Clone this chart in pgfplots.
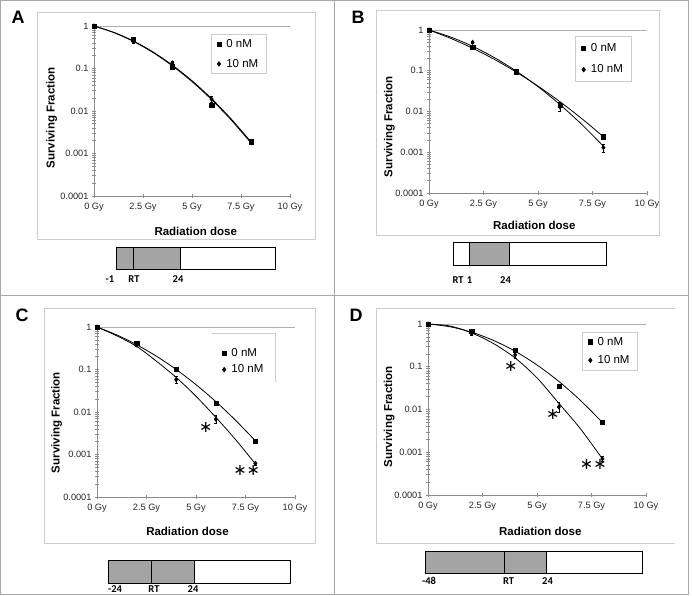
\documentclass[border=0pt]{standalone}
\usepackage{fontspec}
\setmainfont{Liberation Sans}
\newfontfamily\calfont{Carlito}
\newfontfamily\dejavu{DejaVu Sans}
\usepackage{pgfplots}
\pgfplotsset{compat=1.18}
\definecolor{framec}{HTML}{A8A8A8}
\definecolor{boxc}{HTML}{CDCDCD}
\definecolor{axc}{HTML}{8C8C8C}
\definecolor{fillg}{HTML}{A4A4A4}

\pgfplotsset{
  scale only axis, xmin=0, xmax=10, ymin=0.0001, ymax=1,
  xtick={0,2.5,5,7.5,10}, xticklabels={0 Gy,2.5 Gy,5 Gy,7.5 Gy,10 Gy},
  ytick={0.0001,0.001,0.01,0.1,1}, yticklabels={0.0001,0.001,0.01,0.1,1},
  minor ytick={0.0002,0.0003,0.0004,0.0005,0.0006,0.0007,0.0008,0.0009,
               0.002,0.003,0.004,0.005,0.006,0.007,0.008,0.009,
               0.02,0.03,0.04,0.05,0.06,0.07,0.08,0.09,
               0.2,0.3,0.4,0.5,0.6,0.7,0.8,0.9},
  axis lines*=left, axis line style={axc, line width=0.7pt},
  tick style={axc, line width=0.6pt}, major tick length=4pt, minor tick length=3.5pt, tick align=center,
  ticklabel style={font=\fontsize{9.2}{10}\selectfont, text=black!85},
  xticklabel style={yshift=-2pt},
  xlabel={Radiation dose}, ylabel={Surviving Fraction},
  label style={font=\bfseries\fontsize{11.5}{13}\selectfont},
  clip=false,
  legend cell align=left,
  legend style={draw=boxc, line width=0.6pt, font=\fontsize{11.5}{13}\selectfont, anchor=north west,
     inner xsep=6pt, inner ysep=3pt, row sep=6pt},
}

\begin{document}
\begin{tikzpicture}
\useasboundingbox (0,0) rectangle (692pt,595pt);
\begin{scope}[x=1pt,y=-1pt,yshift=595pt]
  % frame and dividers
  \draw[framec, line width=0.9pt] (0.5,0.5) rectangle (688,594.5);
  \draw[framec, line width=0.9pt] (334.5,0.5) -- (334.5,594.5);
  \draw[framec, line width=0.9pt] (0.5,295) -- (688,295);
  % chart boxes
  \draw[boxc, line width=0.8pt] (37,12) rectangle (315,239);
  \draw[boxc, line width=0.8pt] (376,10) rectangle (659,235);
  \draw[boxc, line width=0.8pt] (44,308) rectangle (315,543);
  \draw[boxc, line width=0.8pt] (376,308) -- (675,308);
  \draw[boxc, line width=0.8pt] (376,308) -- (376,543) -- (675,543);
  % panel letters
  \node[font=\bfseries\fontsize{18}{18}\selectfont] at (18,17) {A};
  \node[font=\bfseries\fontsize{18}{18}\selectfont] at (358,17) {B};
  \node[font=\bfseries\fontsize{18}{18}\selectfont] at (22,315) {C};
  \node[font=\bfseries\fontsize{18}{18}\selectfont] at (356,315) {D};
  % timelines
  \begin{scope}[line width=0.8pt, font=\calfont\bfseries\fontsize{10.5}{11}\selectfont]
    % A
    \fill[fillg] (116,247) rectangle (180,269);
    \draw (116,247) rectangle (275,269);
    \draw (133,247) -- (133,269); \draw (180,247) -- (180,269);
    \node at (110,279) {-1}; \node at (134,279) {RT}; \node at (178,279) {24};
    % B
    \fill[fillg] (469,242) rectangle (509,265);
    \draw (453,242) rectangle (606,265);
    \draw (469,242) -- (469,265); \draw (509,242) -- (509,265);
    \node at (458,280) {RT}; \node at (469.5,280) {1}; \node at (505.5,280) {24};
    % C
    \fill[fillg] (108,560) rectangle (194,583);
    \draw (108,560) rectangle (290,583);
    \draw (151,560) -- (151,583); \draw (194,560) -- (194,583);
    \node at (115,589) {-24}; \node at (154,589) {RT}; \node at (193,589) {24};
    % D
    \fill[fillg] (425,551) rectangle (546,573);
    \draw (425,551) rectangle (642,573);
    \draw (504,551) -- (504,573); \draw (546,551) -- (546,573);
    \node at (429,581) {-48}; \node at (508.5,581) {RT}; \node at (547.5,581) {24};
  \end{scope}
  % partial legend frame of C
  \draw[boxc, line width=0.8pt] (211.7,333.3) -- (275,333.3) -- (275,381.7);
\end{scope}

% ---------- Panel A ----------
\begin{semilogyaxis}[at={(94pt,399pt)}, anchor=south west, width=196pt, height=170pt,
  ylabel style={at={(axis description cs:-0.216,0.46)}, anchor=center},
  xlabel style={at={(axis description cs:0.519,-0.21)}, anchor=center},
  legend style={at={(axis description cs:0.595,0.951)}}]
\draw[axc!70, line width=0.6pt] (axis cs:0,1) -- (axis cs:10,1);
\addplot[black, line width=0.8pt, smooth, forget plot, mark=none] coordinates {(0,1) (1,0.712) (2,0.447) (3,0.247) (4,0.120) (5,0.0516) (6,0.0195) (7,0.00648) (8,0.00190)};
\addplot[black, line width=0.8pt, smooth, forget plot, mark=none] coordinates {(0,1) (1,0.703) (2,0.436) (3,0.239) (4,0.115) (5,0.0492) (6,0.0185) (7,0.00614) (8,0.00180)};
\addplot[only marks, mark=square*, mark size=2.1pt, black, error bars/.cd, y dir=both, y explicit, error bar style={black, line width=0.6pt}, error mark options={rotate=90, mark size=1.6pt, black, line width=0.6pt}]
  coordinates {(0,1) +- (0,0) (2,0.48) +- (0,0.03) (4,0.11) +- (0,0.01) (6,0.0138) +- (0,0.001) (8,0.0019) +- (0,0.0002)};
\addplot[only marks, mark=diamond*, mark size=2.3pt, black, error bars/.cd, y dir=both, y explicit, error bar style={black, line width=0.6pt}, error mark options={rotate=90, mark size=1.6pt, black, line width=0.6pt}]
  coordinates {(0,1) +- (0,0) (2,0.43) +- (0,0.03) (4,0.135) +- (0,0.015) (6,0.019) +- (0,0.003) (8,0.00185) +- (0,0.0002)};
\legend{~0 nM, ~10 nM}
\end{semilogyaxis}

% ---------- Panel B ----------
\begin{semilogyaxis}[at={(429pt,402pt)}, anchor=south west, width=218pt, height=163pt,
  ylabel style={at={(axis description cs:-0.182,0.407)}, anchor=center},
  xlabel style={at={(axis description cs:0.483,-0.196)}, anchor=center},
  legend style={at={(axis description cs:0.671,0.963)}, row sep=8pt, inner ysep=5pt}]
\draw[axc!70, line width=0.6pt] (axis cs:0,1) -- (axis cs:10,1);
\addplot[black, line width=0.8pt, smooth, forget plot, mark=none] coordinates {(0,1) (1,0.622) (2,0.358) (3,0.190) (4,0.0929) (5,0.0420) (6,0.0175) (7,0.00675) (8,0.00240)};
\addplot[black, line width=0.8pt, smooth, forget plot, mark=none] coordinates {(0,1) (1,0.671) (2,0.399) (3,0.210) (4,0.0982) (5,0.0407) (6,0.0149) (7,0.00486) (8,0.00140)};
\addplot[only marks, mark=square*, mark size=2.1pt, black, error bars/.cd, y dir=both, y explicit, error bar style={black, line width=0.6pt}, error mark options={rotate=90, mark size=1.6pt, black, line width=0.6pt}]
  coordinates {(0,1) +- (0,0) (2,0.37) +- (0,0.02) (4,0.095) +- (0,0.005) (6,0.0145) +- (0,0.002) (8,0.0024) +- (0,0.0003)};
\addplot[only marks, mark=diamond*, mark size=2.3pt, black, error bars/.cd, y dir=both, y explicit, error bar style={black, line width=0.6pt}, error mark options={rotate=90, mark size=1.6pt, black, line width=0.6pt}]
  coordinates {(0,1) +- (0,0) (2,0.5) +- (0,0.03) (4,0.095) +- (0,0.005) (6,0.013) +- (0,0.003) (8,0.0013) +- (0,0.0003)};
\legend{~0 nM, ~10 nM}
\end{semilogyaxis}

% ---------- Panel C ----------
\begin{semilogyaxis}[at={(97pt,98pt)}, anchor=south west, width=198pt, height=170pt,
  ylabel style={at={(axis description cs:-0.204,0.438)}, anchor=center},
  xlabel style={at={(axis description cs:0.457,-0.204)}, anchor=center},
  legend style={at={(axis description cs:0.60,0.906)}, draw=none, fill=none, row sep=3pt}]
\draw[axc!70, line width=0.6pt] (axis cs:0,1) -- (axis cs:10,1);
\addplot[black, line width=0.8pt, smooth, forget plot, mark=none] coordinates {(0,1) (1,0.651) (2,0.384) (3,0.206) (4,0.100) (5,0.0440) (6,0.0176) (7,0.00637) (8,0.0021)};
\addplot[black, line width=0.8pt, smooth, forget plot, mark=none] coordinates {(0,1) (1,0.62) (2,0.35) (3,0.157) (4,0.065) (5,0.0235) (6,0.0075) (7,0.00224) (8,0.0006)};
\addplot[only marks, mark=square*, mark size=2.1pt, black, error bars/.cd, y dir=both, y explicit, error bar style={black, line width=0.6pt}, error mark options={rotate=90, mark size=1.6pt, black, line width=0.6pt}]
  coordinates {(0,1) +- (0,0) (2,0.42) +- (0,0.02) (4,0.1) +- (0,0.005) (6,0.016) +- (0,0.001) (8,0.0021) +- (0,0.0001)};
\addplot[only marks, mark=diamond*, mark size=2.3pt, black, error bars/.cd, y dir=both, y explicit, error bar style={black, line width=0.6pt}, error mark options={rotate=90, mark size=1.6pt, black, line width=0.6pt}]
  coordinates {(0,1) +- (0,0) (2,0.38) +- (0,0.03) (4,0.058) +- (0,0.01) (6,0.0068) +- (0,0.0015) (8,0.00062) +- (0,0.00005)};
\legend{~0 nM, ~10 nM}
\node[font=\dejavu\fontsize{16}{16}\selectfont] at (axis cs:5.5,0.0043) {∗};
\node[font=\dejavu\fontsize{16}{16}\selectfont] at (axis cs:7.56,0.00043) {∗∗};
\end{semilogyaxis}

% ---------- Panel D ----------
\begin{semilogyaxis}[at={(428pt,100pt)}, anchor=south west, width=218pt, height=171pt,
  ylabel style={at={(axis description cs:-0.178,0.458)}, anchor=center},
  xlabel style={at={(axis description cs:0.515,-0.21)}, anchor=center},
  legend style={at={(axis description cs:0.706,0.955)}, row sep=5pt}]
\draw[axc!70, line width=0.6pt] (axis cs:0,1) -- (axis cs:10,1);
\addplot[black, line width=0.8pt, smooth, forget plot, mark=none] coordinates {(0,1) (1,0.864) (2,0.644) (3,0.414) (4,0.230) (5,0.110) (6,0.0455) (7,0.0162) (8,0.0050)};
\addplot[black, line width=0.8pt, smooth, forget plot, mark=none] coordinates {(0,1) (1,0.9) (2,0.62) (3,0.35) (4,0.16) (5,0.055) (6,0.014) (7,0.0035) (8,0.0007)};
\addplot[only marks, mark=square*, mark size=2.1pt, black, error bars/.cd, y dir=both, y explicit, error bar style={black, line width=0.6pt}, error mark options={rotate=90, mark size=1.6pt, black, line width=0.6pt}]
  coordinates {(0,1) +- (0,0) (2,0.68) +- (0,0.05) (4,0.24) +- (0,0.02) (6,0.035) +- (0,0.003) (8,0.005) +- (0,0.0003)};
\addplot[only marks, mark=diamond*, mark size=2.3pt, black, error bars/.cd, y dir=both, y explicit, error bar style={black, line width=0.6pt}, error mark options={rotate=90, mark size=1.6pt, black, line width=0.6pt}]
  coordinates {(0,1) +- (0,0) (2,0.6) +- (0,0.06) (4,0.19) +- (0,0.03) (6,0.0115) +- (0,0.003) (8,0.0007) +- (0,0.0001)};
\legend{~0 nM, ~10 nM}
\node[font=\dejavu\fontsize{16}{16}\selectfont] at (axis cs:3.8,0.1) {∗};
\node[font=\dejavu\fontsize{16}{16}\selectfont] at (axis cs:5.72,0.0077) {∗};
\node[font=\dejavu\fontsize{16}{16}\selectfont] at (axis cs:7.58,0.00052) {∗∗};
\end{semilogyaxis}
\end{tikzpicture}
\end{document}
